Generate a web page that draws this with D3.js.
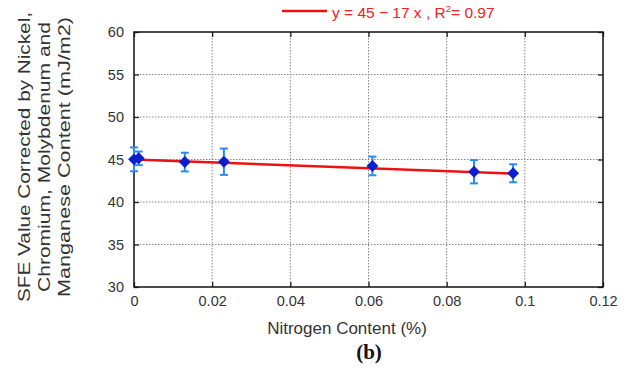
<!DOCTYPE html>
<html>
<head>
<meta charset="utf-8">
<script src="https://cdn.jsdelivr.net/npm/d3@7"></script>
<style>
  html, body { margin: 0; padding: 0; background: #fff; }
  svg { display: block; font-family: "Liberation Sans", Arial, sans-serif; }
</style>
</head>
<body>
<svg id="chart" width="627" height="381"></svg>
<script>
// Nitrogen content (%) of each sample
const nitrogen = [0, 0.0012, 0.013, 0.023, 0.061, 0.087, 0.097];
// Corrected SFE (mJ/m2) and its error half-width
const sfe = [45.02, 45.14, 44.7, 44.74, 44.24, 43.56, 43.38];
const sfeErr = [1.4, 0.8, 1.1, 1.55, 1.1, 1.37, 1.06];
// Linear fit  y = a + b x
const fitIntercept = 45;
const fitSlope = -17;
const fitRange = [0, 0.097];
const fitLabel = "y = 45 \u2212 17 x ,  R";
const fitR2 = "0.97";
// Axis ticks
const xTicks = [0, 0.02, 0.04, 0.06, 0.08, 0.1, 0.12];
const yTicks = [30, 35, 40, 45, 50, 55, 60];
const yTitle = ["SFE Value Corrected by Nickel,", "Chromium, Molybdenum and", "Manganese Content (mJ/m2)"];
const yTitleLen = [290, 270, 280];
const xTitle = "Nitrogen Content (%)";
const panel = "(b)";

const svg = d3.select("#chart");
const L = 134, R = 603, T = 32, B = 287;

const x = d3.scaleLinear().domain([0, 0.12]).range([L, R]);
const y = d3.scaleLinear().domain([30, 60]).range([B, T]);

// dotted grid
const grid = svg.append("g");
grid.selectAll(".gx").data(xTicks.slice(1, -1)).join("line")
  .attr("x1", d => x(d)).attr("x2", d => x(d)).attr("y1", T).attr("y2", B)
  .attr("stroke", "#888").attr("stroke-width", 1).attr("stroke-dasharray", "1.5,1.5");
grid.selectAll(".gy").data(yTicks.slice(1, -1)).join("line")
  .attr("y1", d => y(d)).attr("y2", d => y(d)).attr("x1", L).attr("x2", R)
  .attr("stroke", "#888").attr("stroke-width", 1).attr("stroke-dasharray", "1.5,1.5");

// axes with inward ticks
const fmtX = d => d === 0 ? "0" : d3.format("~g")(d);
const xAxis = svg.append("g").attr("transform", `translate(0,${B})`)
  .call(d3.axisBottom(x).tickValues(xTicks).tickFormat(fmtX).tickSizeInner(-5).tickSizeOuter(0).tickPadding(9));
const xAxisTop = svg.append("g").attr("transform", `translate(0,${T})`)
  .call(d3.axisTop(x).tickValues(xTicks).tickFormat("").tickSizeInner(-5).tickSizeOuter(0));
const yAxis = svg.append("g").attr("transform", `translate(${L},0)`)
  .call(d3.axisLeft(y).tickValues(yTicks).tickSizeInner(-5).tickSizeOuter(0).tickPadding(10));
const yAxisR = svg.append("g").attr("transform", `translate(${R},0)`)
  .call(d3.axisRight(y).tickValues(yTicks).tickFormat("").tickSizeInner(-5).tickSizeOuter(0));

[xAxis, xAxisTop, yAxis, yAxisR].forEach(g => {
  g.attr("font-family", null).attr("font-size", null);
  g.select(".domain").remove();
  g.selectAll(".tick line").attr("stroke", "#222").attr("stroke-width", 1.3);
  g.selectAll("text").style("font-size", "14.5px").attr("fill", "#333")
    .style("font-family", "'Liberation Sans', Arial, sans-serif");
});

// frame
svg.append("rect").attr("x", L).attr("y", T).attr("width", R - L).attr("height", B - T)
  .attr("fill", "none").attr("stroke", "#111").attr("stroke-width", 1.5);

// fit line
svg.append("line")
  .attr("x1", x(fitRange[0])).attr("y1", y(fitIntercept + fitSlope * fitRange[0]))
  .attr("x2", x(fitRange[1])).attr("y2", y(fitIntercept + fitSlope * fitRange[1]))
  .attr("stroke", "#ee1111").attr("stroke-width", 2.5);

// error bars
const pts = nitrogen.map((n, i) => ({ n, v: sfe[i], e: sfeErr[i] }));
const eb = svg.append("g").attr("stroke", "#2a8cf0").attr("stroke-width", 2);
eb.selectAll(".v").data(pts).join("line")
  .attr("x1", d => x(d.n)).attr("x2", d => x(d.n))
  .attr("y1", d => y(d.v + d.e)).attr("y2", d => y(d.v - d.e));
eb.selectAll(".t").data(pts).join("line")
  .attr("x1", d => x(d.n) - 4).attr("x2", d => x(d.n) + 4)
  .attr("y1", d => y(d.v + d.e)).attr("y2", d => y(d.v + d.e));
eb.selectAll(".b").data(pts).join("line")
  .attr("x1", d => x(d.n) - 4).attr("x2", d => x(d.n) + 4)
  .attr("y1", d => y(d.v - d.e)).attr("y2", d => y(d.v - d.e));

// diamond markers
const diamond = d3.symbol().type(d3.symbolDiamond2).size(90);
svg.append("g").selectAll("path").data(pts).join("path")
  .attr("d", diamond)
  .attr("transform", d => `translate(${x(d.n)},${y(d.v)})`)
  .attr("fill", "#0a1fd0");

// legend
svg.append("line").attr("x1", 282).attr("x2", 327).attr("y1", 11).attr("y2", 11)
  .attr("stroke", "#ee1111").attr("stroke-width", 2.5);
const lg = svg.append("text").attr("x", 332).attr("y", 18).style("font-size", "15.5px").attr("fill", "#ee2222");
lg.append("tspan").text(fitLabel);
lg.append("tspan").style("font-size", "9.5px").attr("dy", -6).text("2");
lg.append("tspan").attr("dy", 6).text("= " + fitR2);

// y title, three stacked lines
const yt = svg.append("text").attr("transform", "translate(0,157) rotate(-90)")
  .attr("text-anchor", "middle").style("font-size", "17px").attr("fill", "#333");
yTitle.forEach((s, i) => yt.append("tspan").attr("x", 0).attr("y", 30 + i * 20)
  .attr("textLength", yTitleLen[i]).attr("lengthAdjust", "spacingAndGlyphs").text(s));

// x title
svg.append("text").attr("x", 347).attr("y", 334).attr("text-anchor", "middle")
  .style("font-size", "17px").attr("fill", "#333").text(xTitle);

// panel label
svg.append("text").attr("x", 369).attr("y", 359).attr("text-anchor", "middle")
  .style("font-size", "21px").attr("font-weight", "bold")
  .style("font-family", "'Liberation Serif', 'Times New Roman', serif").attr("fill", "#111").text(panel);
</script>
</body>
</html>
